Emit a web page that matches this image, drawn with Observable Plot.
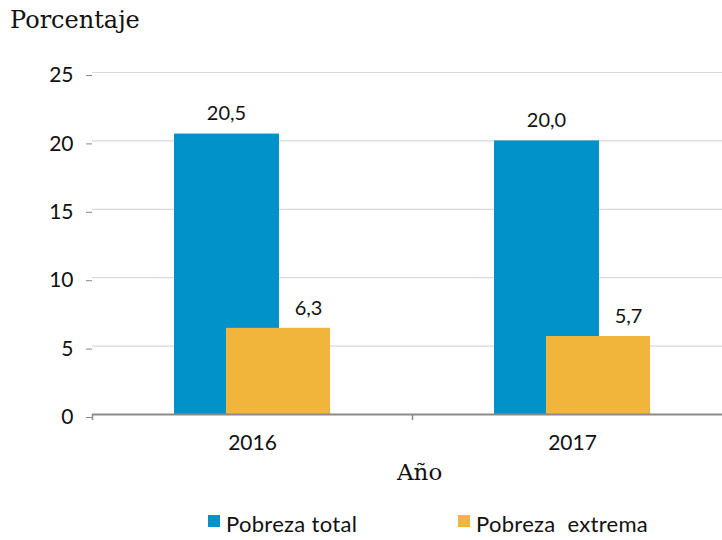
<!DOCTYPE html>
<html>
<head>
<meta charset="utf-8">
<script src="https://cdn.jsdelivr.net/npm/d3@7"></script>
<script src="https://cdn.jsdelivr.net/npm/@observablehq/plot@0.6"></script>
<style>
  body { margin: 0; background: #fff; }
  #wrap { position: relative; width: 722px; height: 540px; overflow: hidden; }
  .title { position: absolute; font-family: "DejaVu Serif", "Liberation Serif", serif; color: #111; line-height: 1; }
  .legend { position: absolute; top: 513px; font-family: Lato, "Open Sans", sans-serif; font-size: 22px; letter-spacing: 0.3px; color: #111; display: flex; align-items: center; line-height: 1; }
  .sw { display: inline-block; width: 12px; height: 12px; margin-right: 6px; margin-top: -6px; }
</style>
</head>
<body>
<div id="wrap">
  <div id="chart"></div>
  <div class="title" style="left:10px; top:8px; font-size:24px;">Porcentaje</div>
  <div class="title" style="left:397px; top:461px; font-size:23px;">Año</div>
  <div class="legend" style="left:208px;"><span class="sw" style="background:#0092C8"></span>Pobreza total</div>
  <div class="legend" style="left:458px;"><span class="sw" style="background:#F2B53C"></span>Pobreza&nbsp; extrema</div>
</div>
<script>
const years = ["2016", "2017"];
const pobrezaTotal = [20.5, 20.0];
const pobrezaExtrema = [6.3, 5.7];
const yTicks = [0, 5, 10, 15, 20, 25];

const fmt = v => v.toFixed(1).replace(".", ",");
const totalData = years.map((y, i) => ({year: y, value: pobrezaTotal[i]}));
const extremaData = years.map((y, i) => ({year: y, value: pobrezaExtrema[i]}));

const chart = Plot.plot({
  width: 722,
  height: 540,
  marginLeft: 92,
  marginRight: 0,
  marginTop: 72,
  marginBottom: 126,
  style: {fontFamily: "Lato, 'Open Sans', sans-serif", fontSize: "21px", color: "#111", background: "#fff"},
  x: {type: "band", domain: years, range: [92, 732], padding: 0},
  y: {domain: [0, 25], range: [414, 72]},
  marks: [
    Plot.gridY(yTicks, {stroke: "#d9d9d9", strokeOpacity: 1, strokeWidth: 1.2}),
    Plot.axisY(yTicks, {tickSize: 6, tickPadding: 13, stroke: "#888", fontSize: 21, dy: 3, label: null}),
    Plot.barY(totalData, {x: "year", y: "value", fill: "#0092C8", insetLeft: 82, insetRight: 133}),
    Plot.barY(extremaData, {x: "year", y: "value", fill: "#F2B53C", insetLeft: 134, insetRight: 82}),
    Plot.ruleY([0], {stroke: "#8a8a8a", strokeWidth: 2}),
    Plot.ruleX(years, {x: d => d, y1: 0, y2: -0.45, dx: -160, stroke: "#8a8a8a", strokeWidth: 1.5}),
    Plot.axisX({tickSize: 0, tickPadding: 21, fontSize: 21, label: null}),
    Plot.text(totalData, {x: "year", y: "value", text: d => fmt(d.value), dx: -26, dy: -20, fontSize: 20, fill: "#111"}),
    Plot.text(extremaData, {x: "year", y: "value", text: d => fmt(d.value), dx: 56, dy: -20, fontSize: 20, fill: "#111"})
  ]
});
document.getElementById("chart").appendChild(chart);
</script>
</body>
</html>
